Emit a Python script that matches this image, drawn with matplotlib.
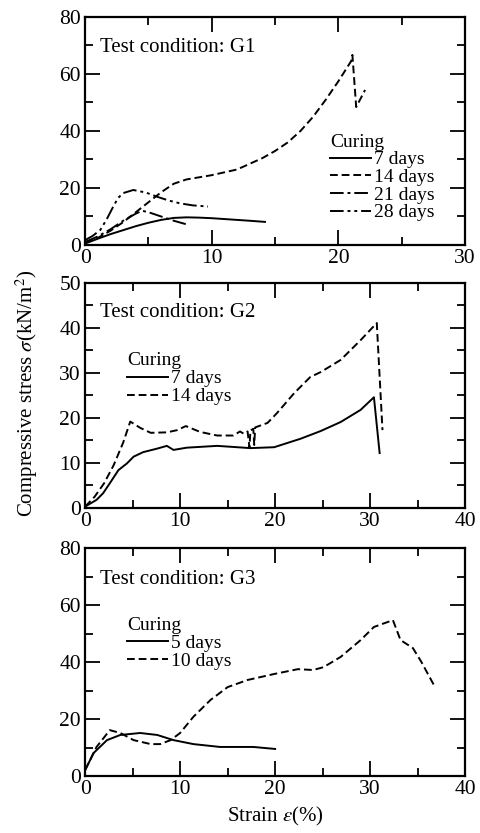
import matplotlib
matplotlib.use("Agg")
import matplotlib.pyplot as plt
from matplotlib.ticker import MultipleLocator

plt.rcParams["font.family"] = ["Liberation Serif", "DejaVu Serif"]
plt.rcParams["mathtext.fontset"] = "stix"

# ---- G1 ----
g1_7d_x = [0, 1, 2, 3, 4, 5, 6, 7, 8, 9, 10, 11, 12, 13, 14.2]
g1_7d_y = [0.5, 2.2, 3.8, 5.2, 6.6, 7.8, 8.8, 9.5, 9.7, 9.6, 9.4, 9.1, 8.8, 8.5, 8.1]
g1_14d_x = [0, 1, 2, 3, 4, 5, 6, 7, 8, 10, 12, 14, 15, 16, 17, 18, 19, 20, 21, 21.1, 21.4, 22.1]
g1_14d_y = [1.0, 2.5, 5.0, 8.0, 11.5, 15.0, 18.5, 21.5, 23.0, 24.5, 26.5, 30.5, 33.0, 36.0, 40.0,
            45.0, 51.0, 57.5, 64.5, 66.7, 48.4, 54.4]
g1_21d_x = [0, 1, 2, 3, 4, 4.5, 5, 6, 7, 8.2]
g1_21d_y = [1.0, 3.0, 5.5, 8.5, 11.0, 12.0, 11.5, 10.0, 8.5, 7.0]
g1_28d_x = [0, 0.6, 1.2, 1.7, 2.2, 2.6, 3.0, 3.8, 4.8, 5.7, 6.6, 7.5, 8.5, 9.7]
g1_28d_y = [1.7, 3.2, 5.3, 9.0, 13.3, 16.5, 18.2, 19.3, 18.4, 16.9, 15.6, 14.6, 13.9, 13.5]

# ---- G2 ----
g2_7d_x = [0, 1.2, 1.9, 2.6, 3.5, 4.4, 5.1, 6.1, 7.6, 8.6, 9.3, 10.7, 13.9, 17.4, 19.9, 22.7,
           24.8, 26.9, 29.0, 30.4, 31.0]
g2_7d_y = [0.3, 1.8, 3.3, 5.5, 8.4, 9.9, 11.4, 12.4, 13.2, 13.8, 12.9, 13.4, 13.8, 13.3, 13.5,
           15.4, 17.1, 19.1, 21.8, 24.6, 12.2]
g2_14d_x = [0, 1.0, 2.0, 3.0, 4.0, 4.75, 5.8, 6.9, 8.6, 9.7, 10.6, 12.1, 13.9, 15.6, 16.3, 16.7,
            17.1, 17.3, 17.4, 17.7, 17.8, 17.9, 19.2, 20.2, 22.0, 23.7, 24.8, 26.9, 29.0, 30.7, 31.3]
g2_14d_y = [0.3, 2.5, 5.5, 9.5, 14.5, 19.2, 17.8, 16.7, 16.8, 17.3, 18.2, 16.9, 16.1, 16.1, 17.0,
            16.5, 17.0, 13.4, 17.2, 17.6, 14.0, 17.9, 18.9, 21.1, 25.5, 29.1, 30.2, 32.9, 37.3,
            41.1, 17.3]

# ---- G3 ----
g3_5d_x = [0, 0.9, 2.3, 3.7, 5.8, 7.6, 9.3, 11.4, 14.2, 17.7, 20.0]
g3_5d_y = [2.1, 8.1, 12.6, 14.4, 15.1, 14.4, 12.6, 11.2, 10.2, 10.2, 9.5]
g3_10d_x = [0, 1.2, 2.6, 3.7, 5.1, 6.9, 7.9, 9.0, 10.0, 11.4, 13.2, 15.0, 17.1, 19.9, 22.4,
            24.0, 25.1, 26.9, 29.0, 30.4, 32.4, 33.2, 34.5, 35.4, 36.7]
g3_10d_y = [2.1, 10.2, 16.1, 15.1, 12.6, 11.2, 11.2, 12.6, 15.1, 20.8, 26.7, 31.2, 33.7, 35.8,
            37.5, 37.2, 38.2, 41.8, 47.7, 52.3, 54.7, 47.7, 44.9, 40.0, 32.0]

DASH = (0, (4, 2))
DASHDOT = (0, (7, 2, 1.5, 2))
DASHDOTDOT = (0, (7, 2, 1.5, 2, 1.5, 2))

fig = plt.figure(figsize=(4.81, 8.33), dpi=100)
ax1 = fig.add_axes([0.177, 0.7059, 0.790, 0.2737])
ax2 = fig.add_axes([0.177, 0.3902, 0.790, 0.2701])
ax3 = fig.add_axes([0.177, 0.0684, 0.790, 0.2737])


def style(ax, xmax, ymax, ymaj):
    ax.set_xlim(0, xmax)
    ax.set_ylim(0, ymax)
    ax.xaxis.set_major_locator(MultipleLocator(10))
    ax.xaxis.set_minor_locator(MultipleLocator(5))
    ax.yaxis.set_major_locator(MultipleLocator(ymaj))
    ax.yaxis.set_minor_locator(MultipleLocator(ymaj / 2))
    ax.tick_params(which="both", direction="in", top=True, right=True, width=1.3,
                   labelsize=15.5, pad=3)
    ax.tick_params(which="major", length=11)
    ax.tick_params(which="minor", length=6)
    for s in ax.spines.values():
        s.set_linewidth(1.6)


def curing_legend(ax, anchor, spacing):
    ax.legend(title="Curing", loc="upper left", bbox_to_anchor=anchor, frameon=False,
              fontsize=14, title_fontsize=14, handlelength=2.1, handletextpad=0.15,
              labelspacing=spacing, borderpad=0, alignment="left")


lw = 1.4
style(ax1, 30, 80, 20)
ax1.plot(g1_7d_x, g1_7d_y, color="k", lw=lw, ls="-", label="7 days")
ax1.plot(g1_14d_x, g1_14d_y, color="k", lw=lw, ls=DASH, label="14 days")
ax1.plot(g1_21d_x, g1_21d_y, color="k", lw=lw, ls=DASHDOT, label="21 days")
ax1.plot(g1_28d_x, g1_28d_y, color="k", lw=lw, ls=DASHDOTDOT, label="28 days")
ax1.text(0.04, 0.865, "Test condition: G1", transform=ax1.transAxes, fontsize=15, va="center")
curing_legend(ax1, (0.62, 0.53), 0.0)

style(ax2, 40, 50, 10)
ax2.plot(g2_7d_x, g2_7d_y, color="k", lw=lw, ls="-", label="7 days")
ax2.plot(g2_14d_x, g2_14d_y, color="k", lw=lw, ls=DASH, label="14 days")
ax2.text(0.04, 0.867, "Test condition: G2", transform=ax2.transAxes, fontsize=15, va="center")
curing_legend(ax2, (0.085, 0.735), 0.02)

style(ax3, 40, 80, 20)
ax3.plot(g3_5d_x, g3_5d_y, color="k", lw=lw, ls="-", label="5 days")
ax3.plot(g3_10d_x, g3_10d_y, color="k", lw=lw, ls=DASH, label="10 days")
ax3.text(0.04, 0.86, "Test condition: G3", transform=ax3.transAxes, fontsize=15, va="center")
curing_legend(ax3, (0.085, 0.74), 0.02)
ax3.set_xlabel(r"Strain $\varepsilon$(%)", fontsize=15, labelpad=4)

fig.text(0.055, 1 - 393 / 833, r"Compressive stress $\sigma$(kN/m$^2$)", rotation=90,
         fontsize=15, ha="center", va="center")

fig.savefig("out.png", dpi=100)
